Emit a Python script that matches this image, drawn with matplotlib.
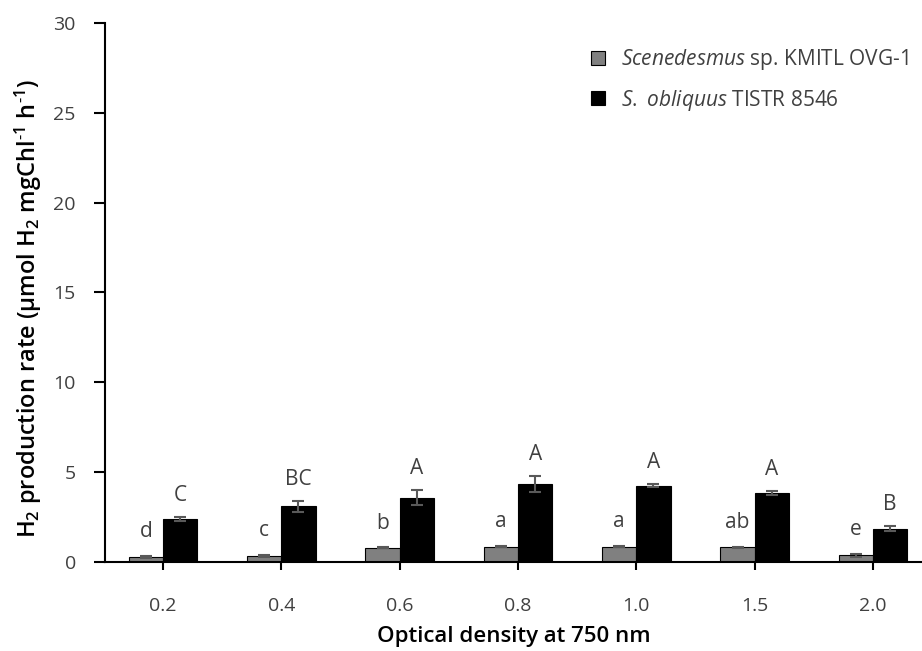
import matplotlib
matplotlib.use("Agg")
import matplotlib.pyplot as plt
import numpy as np
from matplotlib.patches import Patch

plt.rcParams["font.family"] = ["Open Sans", "DejaVu Sans"]
plt.rcParams["mathtext.fontset"] = "custom"
plt.rcParams["mathtext.rm"] = "Open Sans"
plt.rcParams["mathtext.it"] = "Open Sans:italic"
plt.rcParams["mathtext.bf"] = "Open Sans:bold"
plt.rcParams["mathtext.default"] = "regular"

# Optical density levels and H2 production rates
od_labels = ["0.2", "0.4", "0.6", "0.8", "1.0", "1.5", "2.0"]
ovg1_rate = [0.29, 0.35, 0.79, 0.85, 0.85, 0.81, 0.37]
ovg1_err = [0.04, 0.06, 0.03, 0.03, 0.03, 0.03, 0.08]
tistr_rate = [2.38, 3.11, 3.59, 4.35, 4.25, 3.85, 1.86]
tistr_err = [0.12, 0.30, 0.44, 0.46, 0.10, 0.10, 0.15]
ovg1_letters = ["d", "c", "b", "a", "a", "ab", "e"]
tistr_letters = ["C", "BC", "A", "A", "A", "A", "B"]

text_col = "#404040"
err_col = "#595959"
bar_w = 0.29

fig = plt.figure(figsize=(9.22, 6.51), dpi=100)
ax = fig.add_axes([0.1139, 0.1367, 0.8861, 0.828])

x = np.arange(len(od_labels))
ax.bar(x - bar_w / 2, ovg1_rate, bar_w, color="#808080", edgecolor="black",
       linewidth=0.8, yerr=ovg1_err, error_kw=dict(ecolor=err_col, capsize=4,
                                                    elinewidth=1.5, capthick=1.5))
ax.bar(x + bar_w / 2, tistr_rate, bar_w, color="black", edgecolor="black",
       linewidth=0.8, yerr=tistr_err, error_kw=dict(ecolor=err_col, capsize=4,
                                                     elinewidth=1.5, capthick=1.5))

# significance letters above each bar
for i in range(len(od_labels)):
    ax.text(x[i] - bar_w / 2, ovg1_rate[i] + ovg1_err[i] + 1.35, ovg1_letters[i],
            ha="center", va="center", fontsize=15, color=text_col)
    ax.text(x[i] + bar_w / 2, tistr_rate[i] + tistr_err[i] + 1.2, tistr_letters[i],
            ha="center", va="center", fontsize=15, color=text_col)

ax.set_xlim(-0.49, 6.414)
ax.set_ylim(0, 30)
ax.set_xticks(x)
ax.set_xticklabels(od_labels)
ax.set_yticks(np.arange(0, 31, 5))
ax.tick_params(axis="both", direction="out", width=1.5,
               labelsize=14, labelcolor=text_col)
ax.tick_params(axis="y", length=8, pad=13)
ax.tick_params(axis="x", length=6, pad=19)

for side in ["top", "right"]:
    ax.spines[side].set_visible(False)
for side in ["left", "bottom"]:
    ax.spines[side].set_linewidth(1.5)

ax.set_xlabel("Optical density at 750 nm", fontsize=16, fontweight="semibold", labelpad=8)
ax.set_ylabel(r"H$_2$ production rate (µmol H$_2$ mgChl$^{\text{-}1}$ h$^{\text{-}1}$)",
              fontsize=17, fontweight="semibold")
ax.yaxis.set_label_coords(-0.075, 0.47)

handles = [Patch(facecolor="#808080", edgecolor="black", linewidth=0.8),
           Patch(facecolor="black", edgecolor="black", linewidth=0.8)]
labels = [r"$\it{Scenedesmus}$ sp. KMITL OVG-1", r"$\it{S.\ obliquus}$ TISTR 8546"]
leg = ax.legend(handles, labels, loc="upper left", bbox_to_anchor=(0.572, 0.99),
                frameon=False, fontsize=15, handlelength=0.65, handleheight=0.65,
                handletextpad=0.8, labelspacing=0.75)
for t in leg.get_texts():
    t.set_color(text_col)

fig.savefig("out.png", dpi=100)
